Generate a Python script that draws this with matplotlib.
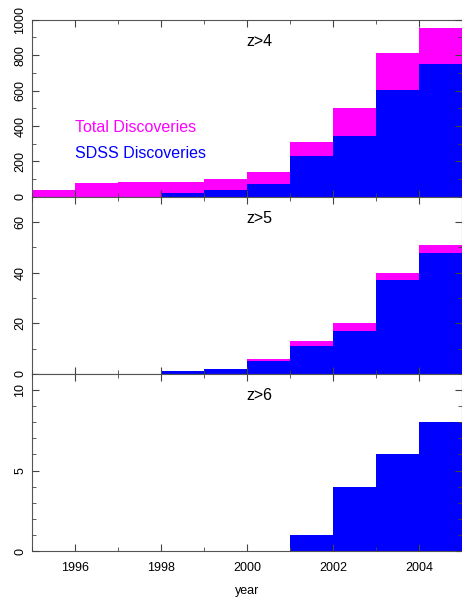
import matplotlib
matplotlib.use("Agg")
import matplotlib.pyplot as plt
from matplotlib.ticker import MultipleLocator

years = [1995, 1996, 1997, 1998, 1999, 2000, 2001, 2002, 2003, 2004]

total_z4 = [36, 81, 84, 84, 99, 141, 311, 501, 812, 951]
sdss_z4 = [0, 0, 0, 22, 39, 75, 231, 345, 602, 752]

total_z5 = [0, 0, 0, 1, 2, 6, 13, 20, 40, 51]
sdss_z5 = [0, 0, 0, 1, 2, 5, 11, 17, 37, 48]

total_z6 = [0, 0, 0, 0, 0, 0, 1, 4, 6, 8]
sdss_z6 = [0, 0, 0, 0, 0, 0, 1, 4, 6, 8]

panels = [
    ("z>4", total_z4, sdss_z4, 1000, 200, 100),
    ("z>5", total_z5, sdss_z5, 70, 20, 10),
    ("z>6", total_z6, sdss_z6, 11, 5, 1),
]

plt.rcParams['font.family'] = ['Liberation Sans', 'DejaVu Sans']

fig, axes = plt.subplots(3, 1, figsize=(4.62, 5.99), dpi=100, sharex=True)
fig.subplots_adjust(left=0.069, right=1.0, bottom=0.08, top=0.967, hspace=0)

for ax, (label, total, sdss, ymax, major, minor) in zip(axes, panels):
    ax.bar(years, total, width=1, align='edge', color='#ff00ff', linewidth=0)
    ax.bar(years, sdss, width=1, align='edge', color='#0000ff', linewidth=0)
    ax.set_xlim(1995, 2005)
    ax.set_ylim(0, ymax)
    ax.yaxis.set_major_locator(MultipleLocator(major))
    ax.yaxis.set_minor_locator(MultipleLocator(minor))
    ax.xaxis.set_major_locator(MultipleLocator(2))
    ax.xaxis.set_minor_locator(MultipleLocator(1))
    ax.tick_params(which='both', direction='in', top=True, right=True, color='#444444')
    ax.tick_params(which='major', length=5)
    ax.tick_params(which='minor', length=3)
    ax.tick_params(axis='y', labelsize=9, labelrotation=90, pad=4)
    for lab in ax.get_yticklabels():
        lab.set_verticalalignment('center')
    for s in ax.spines.values():
        s.set_color('#555555')
    ax.text(0.53, 0.88, label, transform=ax.transAxes, ha='center', va='center', fontsize=11.5)
    ax.set_axisbelow(False)

axes[0].text(1996, 390, "Total Discoveries", color='#ff00ff', fontsize=11.5, va='center')
axes[0].text(1996, 245, "SDSS Discoveries", color='#0000ff', fontsize=11.5, va='center')

axes[2].tick_params(axis='x', labelsize=9, pad=8)
axes[2].set_xlabel("year", fontsize=9, labelpad=8)

fig.savefig("out.png", dpi=100)
